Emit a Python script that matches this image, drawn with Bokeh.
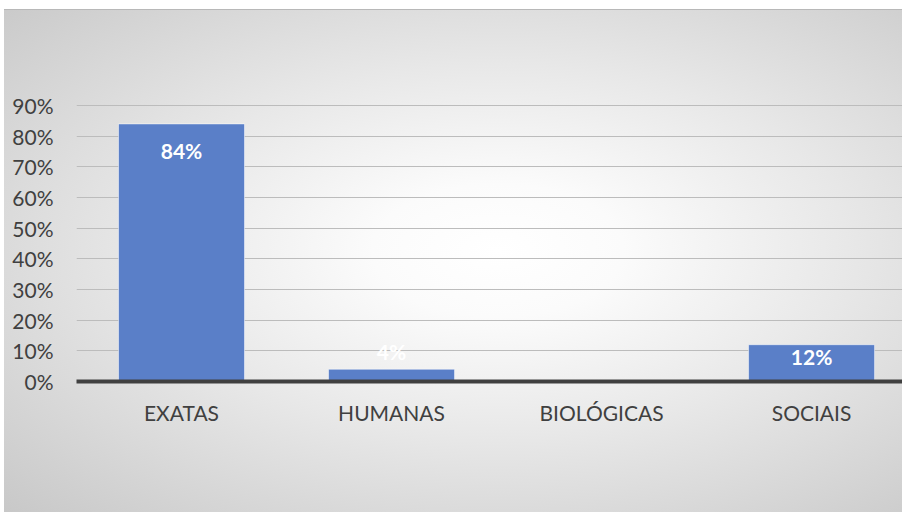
from bokeh.plotting import figure
from bokeh.models import FixedTicker, NumeralTickFormatter, ColumnDataSource, Range1d
from bokeh.core.properties import value
from bokeh.embed import file_html
from bokeh.resources import INLINE

# ---- data ----
categories = ["EXATAS", "HUMANAS", "BIOLÓGICAS", "SOCIAIS"]
values = [0.84, 0.04, 0.0, 0.12]
bar_labels = ["84%", "4%", "0%", "12%"]
y_ticks = [0.0, 0.1, 0.2, 0.3, 0.4, 0.5, 0.6, 0.7, 0.8, 0.9]

# ---- styling ----
FONT = "Lato"
TEXT_COLOR = "#404040"
BAR_COLOR = "#5a7fc8"
label_offsets = [27, -18, 0, 12]  # px, positive = down (inside bar)

xs = [i + 0.5 for i in range(len(categories))]
src = ColumnDataSource(dict(x=xs, top=values, cat=categories))

p = figure(width=902, height=512,
           x_range=Range1d(0, 3.933), y_range=Range1d(0, 1.112),
           output_backend="svg", toolbar_location=None,
           min_border_left=76, min_border_right=0,
           min_border_top=40, min_border_bottom=131)

p.background_fill_color = None
p.border_fill_color = None
p.outline_line_color = None
p.styles = {
    "background": (
        "linear-gradient(#b8b8b8, #b8b8b8) 4px 9px / 100% 1px no-repeat, "
        "radial-gradient(ellipse farthest-corner at 55% 48%, #ffffff 0%, #fbfbfb 18%, #e8e8e8 50%, #c8c8c8 100%) "
        "4px 9px / calc(100% - 4px) calc(100% - 9px) no-repeat, #ffffff"
    ),
}

p.vbar(x="x", top="top", width=0.6, source=src,
       fill_color=BAR_COLOR, line_color="#ffffff", line_alpha=0.5, line_width=1)

# bar labels (only for non-zero bars)
lx, ly, lt, lo = [], [], [], []
for x, v, t, o in zip(xs, values, bar_labels, label_offsets):
    if v > 0:
        lx.append(x); ly.append(v); lt.append(t); lo.append(o)
lsrc = ColumnDataSource(dict(x=lx, y=ly, text=lt, yo=lo))
p.text(x="x", y="y", text="text", y_offset="yo", source=lsrc,
       text_color="white", text_font=value(FONT), text_font_style="bold",
       text_font_size="21px", text_align="center", text_baseline="middle")

# y axis
p.yaxis.ticker = FixedTicker(ticks=y_ticks)
p.yaxis.formatter = NumeralTickFormatter(format="0%")
p.yaxis.axis_line_color = None
p.yaxis.major_tick_line_color = None
p.yaxis.minor_tick_line_color = None
p.yaxis.major_label_standoff = 17
p.yaxis.major_label_text_font = FONT
p.yaxis.major_label_text_font_size = "21px"
p.yaxis.major_label_text_color = TEXT_COLOR

# x axis
p.xaxis.ticker = FixedTicker(ticks=xs)
p.xaxis.major_label_overrides = {x: c for x, c in zip(xs, categories)}
p.xaxis.axis_line_color = "#404040"
p.xaxis.axis_line_width = 4
p.xaxis.major_tick_line_color = None
p.xaxis.minor_tick_line_color = None
p.xaxis.major_label_standoff = 12
p.xaxis.major_label_text_font = FONT
p.xaxis.major_label_text_font_size = "21px"
p.xaxis.major_label_text_color = TEXT_COLOR

# grid
p.xgrid.visible = False
p.ygrid.ticker = FixedTicker(ticks=y_ticks[1:])
p.ygrid.grid_line_color = "#bcbcbc"
p.ygrid.grid_line_width = 1

open("out.html", "w").write(file_html(p, INLINE))
